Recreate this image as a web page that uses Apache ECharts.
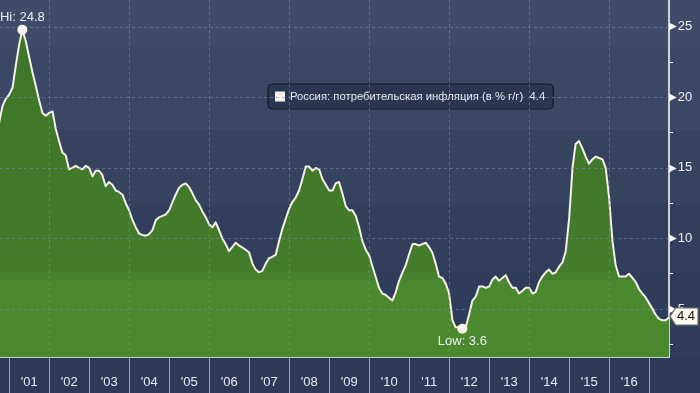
<!DOCTYPE html>
<html><head><meta charset="utf-8">
<script src="https://cdn.jsdelivr.net/npm/echarts@6/dist/echarts.min.js"></script>
<style>
html,body{margin:0;padding:0;background:#2d3a57;}
#c{width:700px;height:393px;background:linear-gradient(to bottom,#3f4c69 0px,#3f4c69 47px,#3a4765 47px,#3a4765 130px,#36435f 130px,#36435f 205px,#323f5c 205px,#323f5c 272px,#303d5a 272px,#2f3c59 357px,#2d3a57 357px,#2d3a57 393px);}
</style></head><body><div id="c"></div>
<script>
// ---- data (monthly, month-end; Sep 2000 .. Jun 2017) ----
const seriesName = 'Россия: потребительская инфляция (в % г/г)';
const firstYear = 2000;
const firstMonth = 9; // September
const v2000 = [18.2, 19.4, 19.9, 20.2];
const v2001 = [20.7, 22.2, 23.7, 24.8, 24.0, 22.9, 21.8, 20.8, 19.8, 18.9, 18.7, 18.9];
const v2002 = [19.0, 17.8, 16.9, 16.1, 15.9, 14.9, 15.0, 15.15, 15.0, 14.9, 15.15, 15.0];
const v2003 = [14.4, 14.8, 14.8, 14.5, 13.7, 14.0, 13.8, 13.4, 13.3, 13.1, 12.5, 12.0];
const v2004 = [11.3, 10.8, 10.35, 10.25, 10.2, 10.3, 10.6, 11.3, 11.5, 11.6, 11.7, 12.0];
const v2005 = [12.6, 13.1, 13.6, 13.8, 13.9, 13.65, 13.2, 12.7, 12.4, 11.9, 11.5, 11.0];
const v2006 = [10.8, 11.15, 10.6, 10.0, 9.6, 9.1, 9.4, 9.7, 9.5, 9.35, 9.2, 9.0];
const v2007 = [8.2, 7.8, 7.6, 7.7, 8.2, 8.6, 8.7, 8.85, 9.8, 10.7, 11.4, 12.1];
const v2008 = [12.6, 12.9, 13.4, 14.2, 15.1, 15.1, 14.8, 15.0, 14.9, 14.2, 13.8, 13.4];
const v2009 = [13.4, 13.9, 14.0, 13.2, 12.3, 12.0, 12.0, 11.6, 10.8, 9.8, 9.2, 8.8];
const v2010 = [8.0, 7.3, 6.5, 6.1, 6.0, 5.8, 5.6, 6.2, 7.0, 7.6, 8.1, 8.9];
const v2011 = [9.6, 9.6, 9.5, 9.6, 9.7, 9.4, 9.0, 8.2, 7.3, 7.2, 6.8, 6.1];
const v2012 = [4.2, 3.7, 3.7, 3.6, 3.7, 4.6, 5.6, 5.9, 6.6, 6.6, 6.5, 6.6];
const v2013 = [7.1, 7.3, 7.0, 7.2, 7.4, 6.9, 6.5, 6.5, 6.1, 6.3, 6.5, 6.5];
const v2014 = [6.1, 6.2, 6.9, 7.3, 7.6, 7.8, 7.5, 7.6, 8.0, 8.3, 9.1, 11.4];
const v2015 = [15.0, 16.7, 16.9, 16.4, 15.8, 15.3, 15.6, 15.8, 15.7, 15.6, 15.0, 12.9];
const v2016 = [9.8, 8.1, 7.3, 7.3, 7.3, 7.5, 7.2, 6.9, 6.4, 6.1, 5.8, 5.4];
const v2017 = [5.0, 4.6, 4.3, 4.2, 4.2, 4.4];
const yearValues = [v2000, v2001, v2002, v2003, v2004, v2005, v2006, v2007, v2008,
  v2009, v2010, v2011, v2012, v2013, v2014, v2015, v2016, v2017];

const xTickYears = [2001,2002,2003,2004,2005,2006,2007,2008,2009,2010,2011,2012,2013,2014,2015,2016,2017];
const xLabelYears = [2001,2002,2003,2004,2005,2006,2007,2008,2009,2010,2011,2012,2013,2014,2015,2016];
const xGridYears = [2002,2004,2006,2008,2010,2012,2014,2016];
const yLabels = [5, 10, 15, 20, 25];
const yMinorTicks = [2.5, 7.5, 12.5, 17.5, 22.5];
const yGrid = [5, 10, 15, 20, 25];

// ---- build points (x = timestamp of month end) ----
const points = [];
yearValues.forEach((arr, yi) => {
  const year = firstYear + yi;
  const m0 = yi === 0 ? firstMonth : 1;
  arr.forEach((v, i) => {
    const m = m0 + i;
    points.push([new Date(year, m, 0).getTime(), v]);
  });
});
const last = points[points.length - 1];
const xMin = new Date(2000, 9, 8).getTime();
const xMax = last[0];

const FONT = 'Liberation Sans';
const chart = echarts.init(document.getElementById('c'), null, {renderer: 'canvas'});
chart.setOption({
  animation: false,
  backgroundColor: 'transparent',
  textStyle: {fontFamily: FONT},
  grid: {left: 0, right: 31, top: 0, bottom: 36, containLabel: false},
  legend: {
    left: 268, top: 84,
    data: [{name: seriesName, icon: 'rect', itemStyle: {color: '#fbf1ec', borderWidth: 0}}],
    itemWidth: 10, itemHeight: 10, itemGap: 5,
    formatter: n => n + '  ' + last[1],
    textStyle: {color: '#e8ecf4', fontSize: 11.3, fontFamily: FONT},
    backgroundColor: '#2b3651', borderColor: '#0e131d', borderWidth: 1, borderRadius: 4,
    padding: [7, 8, 7, 7]
  },
  xAxis: {
    type: 'value', min: xMin, max: xMax, scale: true,
    axisLine: {show: true, lineStyle: {color: '#ffffff', width: 1.5}},
    axisTick: {show: true, customValues: xTickYears.map(y => new Date(y, 0, 1).getTime()),
      length: 36, lineStyle: {color: '#9aa2b4', width: 1}},
    axisLabel: {customValues: xLabelYears.map(y => new Date(y, 6, 2).getTime()),
      formatter: v => "'" + String(new Date(v).getFullYear()).slice(2),
      color: '#e6ebf3', fontSize: 13, margin: 19, fontFamily: FONT},
    splitLine: {show: false}
  },
  yAxis: {
    type: 'value', position: 'right', min: 1.6, max: 26.9,
    axisLine: {show: true, lineStyle: {color: '#ffffff', width: 1.5}},
    axisTick: {show: true, customValues: yMinorTicks, length: 4, lineStyle: {color: '#ffffff'}},
    axisLabel: {customValues: yLabels, margin: 0,
      formatter: v => '{t|▶}{n|' + v + '}',
      rich: {t: {fontSize: 10, color: '#ffffff', fontFamily: 'DejaVu Sans'},
             n: {fontSize: 13, color: '#eef2f8', padding: [0, 0, 0, 1], fontFamily: FONT}}},
    splitLine: {show: false}
  },
  series: [{
    type: 'line', name: seriesName, data: points,
    symbol: 'none', clip: true,
    lineStyle: {color: '#f6f0e8', width: 2, join: 'round'},
    itemStyle: {color: '#f6f0e8'},
    areaStyle: {opacity: 1, color: {type: 'linear', x: 0, y: 0, x2: 0, y2: 357, global: true,
      colorStops: [
        {offset: 0, color: '#3f7529'}, {offset: 0.76, color: '#437c2b'},
        {offset: 0.762, color: '#46822d'}, {offset: 0.784, color: '#46822d'},
        {offset: 0.786, color: '#4a892e'}, {offset: 1, color: '#4a892e'}]}},
    markLine: {
      silent: true, symbol: ['none', 'none'], label: {show: false},
      lineStyle: {color: 'rgba(115,145,180,0.55)', type: [3, 3], width: 1},
      data: yGrid.map(v => ({yAxis: v})).concat(
        xGridYears.map(y => ({xAxis: new Date(y, 0, 1).getTime()})))
    },
    markPoint: {
      silent: true,
      data: [
        {type: 'max', symbol: 'circle', symbolSize: 10, itemStyle: {color: '#fbf4ee'},
         label: {show: true, position: 'top', distance: 1, formatter: 'Hi: {c}',
           color: '#eef0f4', fontSize: 13, fontFamily: FONT}},
        {type: 'min', symbol: 'circle', symbolSize: 10, itemStyle: {color: '#fbf4ee'},
         label: {show: true, position: 'bottom', distance: 1, formatter: 'Low: {c}',
           color: '#eef0f4', fontSize: 13, fontFamily: FONT}},
        {coord: last, value: last[1],
         symbol: 'path://M0,8 L6,0 L30,0 L30,16 L6,16 Z', symbolKeepAspect: false,
         symbolSize: [28, 17], symbolOffset: [15, -1],
         itemStyle: {color: '#fff9f0', borderColor: '#707070', borderWidth: 1},
         label: {show: true, position: 'inside', offset: [2, 0], formatter: '{c}',
           color: '#111111', fontSize: 13, fontFamily: FONT}}
      ]
    }
  }]
});
</script></body></html>
